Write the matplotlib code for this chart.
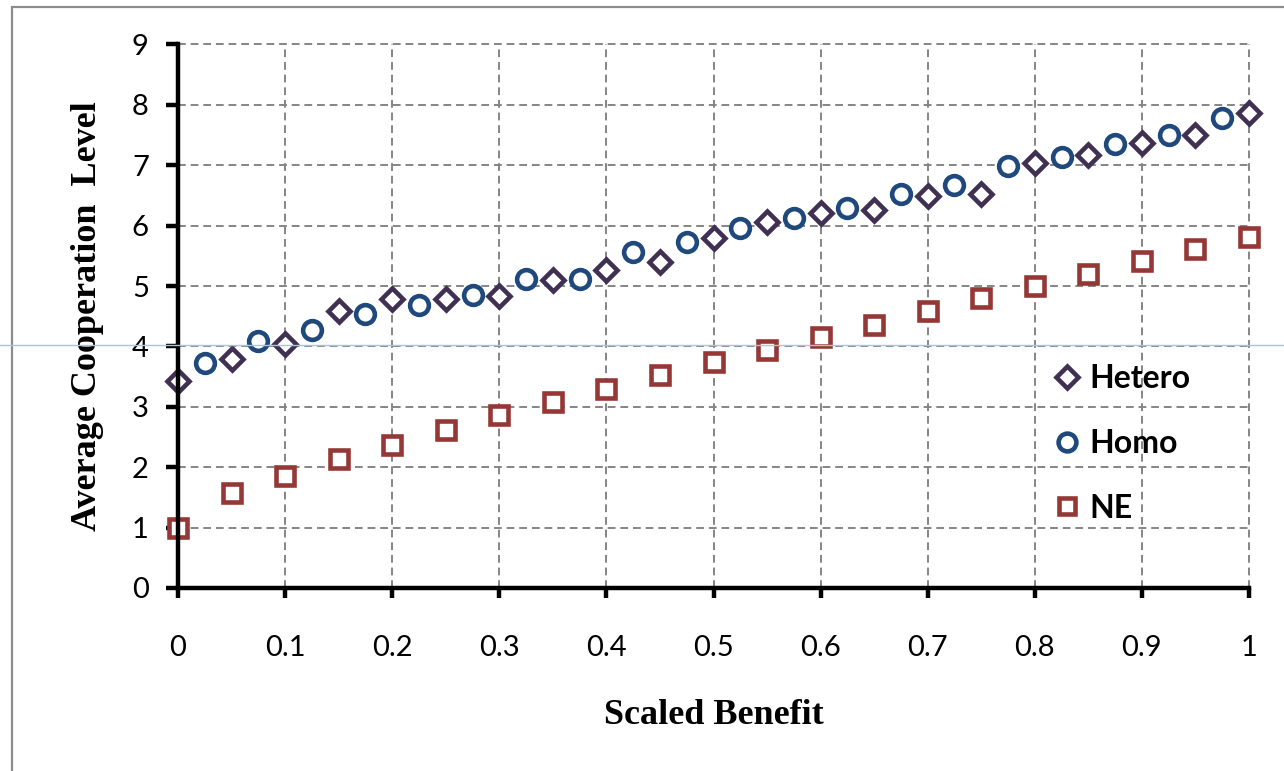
import matplotlib.pyplot as plt
from matplotlib.lines import Line2D
from matplotlib.patches import Rectangle

# values
hetero_x = [0.0, 0.05, 0.1, 0.15, 0.2, 0.25, 0.3, 0.35, 0.4, 0.45, 0.5,
            0.55, 0.6, 0.65, 0.7, 0.75, 0.8, 0.85, 0.9, 0.95, 1.0]
hetero_y = [3.42, 3.80, 4.04, 4.59, 4.78, 4.78, 4.84, 5.10, 5.26, 5.40, 5.79,
            6.06, 6.21, 6.26, 6.49, 6.53, 7.04, 7.17, 7.37, 7.50, 7.87]

homo_x = [0.025, 0.075, 0.125, 0.175, 0.225, 0.275, 0.325, 0.375, 0.425, 0.475,
          0.525, 0.575, 0.625, 0.675, 0.725, 0.775, 0.825, 0.875, 0.925, 0.975]
homo_y = [3.72, 4.09, 4.27, 4.53, 4.69, 4.85, 5.12, 5.11, 5.57, 5.73,
          5.96, 6.12, 6.30, 6.53, 6.67, 6.98, 7.14, 7.35, 7.50, 7.78]

ne_x = hetero_x
ne_y = [1.00, 1.57, 1.86, 2.13, 2.37, 2.62, 2.86, 3.08, 3.30, 3.53, 3.74,
        3.94, 4.16, 4.35, 4.58, 4.80, 5.00, 5.20, 5.42, 5.62, 5.82]

x_ticks = [0, 0.1, 0.2, 0.3, 0.4, 0.5, 0.6, 0.7, 0.8, 0.9, 1]
x_tick_labels = ["0", "0.1", "0.2", "0.3", "0.4", "0.5", "0.6", "0.7", "0.8", "0.9", "1"]
y_ticks = [0, 1, 2, 3, 4, 5, 6, 7, 8, 9]

W, H = 1284, 771
fig = plt.figure(figsize=(W / 100, H / 100), dpi=100)
ax = fig.add_axes([178 / W, 1 - 588 / H, (1249 - 178) / W, (588 - 44.5) / H])

mk = dict(linestyle="none", markerfacecolor="white", markeredgewidth=3.3, clip_on=False, zorder=4)
ax.plot(hetero_x, hetero_y, marker="D", markersize=11.5, markeredgecolor="#403152", label="Hetero", **mk)
ax.plot(homo_x, homo_y, marker="o", markersize=13.5, markeredgecolor="#1f497d", label="Homo", **mk)
ax.plot(ne_x, ne_y, marker="s", markersize=12.5, markeredgecolor="#953735", label="NE", **mk)

ax.set_xlim(0, 1)
ax.set_ylim(0, 9)
ax.set_xticks(x_ticks)
ax.set_xticklabels(x_tick_labels)
ax.set_yticks(y_ticks)

ax.grid(True, color="#858585", linestyle=(0, (4, 2.5)), linewidth=1.4)
ax.set_axisbelow(True)
for gl in ax.get_xgridlines() + ax.get_ygridlines():
    gl.set_clip_on(False)

for side in ["top", "right"]:
    ax.spines[side].set_visible(False)
for side in ["left", "bottom"]:
    ax.spines[side].set_linewidth(3.2)
    ax.spines[side].set_color("black")
    ax.spines[side].set_zorder(5)

ax.tick_params(axis="y", direction="out", length=9, width=3.2, pad=12, labelsize=21)
ax.tick_params(axis="x", direction="out", length=7, width=3.2, pad=27, labelsize=21)
for lbl in ax.get_xticklabels() + ax.get_yticklabels():
    lbl.set_fontfamily("Lato")

ax.set_xlabel("Scaled Benefit", fontfamily="Liberation Serif", fontweight="bold",
              fontsize=26, labelpad=27)
ax.set_ylabel("Average Cooperation  Level", fontfamily="Liberation Serif",
              fontweight="bold", fontsize=26, labelpad=20)

leg = ax.legend(loc="upper left", bbox_to_anchor=(0.793, 0.465), frameon=False,
                prop={"family": "Lato", "weight": "bold", "size": 23},
                handlelength=0.7, handletextpad=0.35, labelspacing=1.12,
                markerscale=0.95)

# outer chart frame and the stray rule across the page
fig.patches.append(Rectangle((12 / W, -0.1), 1.2, 1 - 7 / H + 0.1, transform=fig.transFigure,
                             fill=False, edgecolor="#8c8c8c", linewidth=1.6))
fig.lines.append(Line2D([0, 1], [1 - 345 / H, 1 - 345 / H], transform=fig.transFigure,
                        color="#a9c6d6", linewidth=1.0, zorder=10))

fig.savefig("out.png", dpi=100)
